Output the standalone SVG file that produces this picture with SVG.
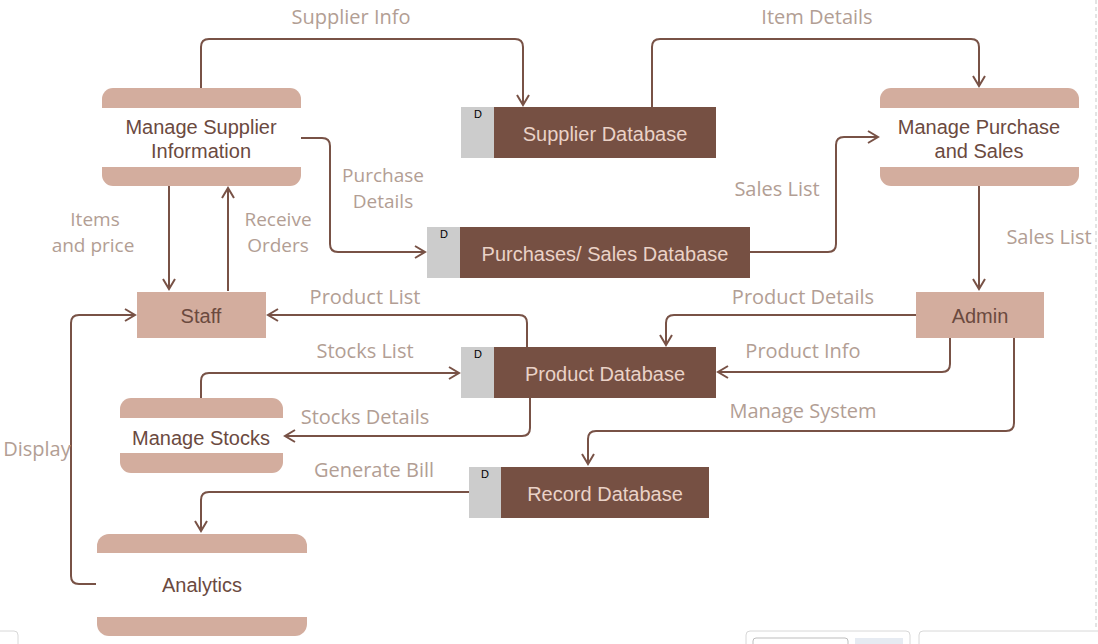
<svg xmlns="http://www.w3.org/2000/svg" width="1098" height="644" viewBox="0 0 1098 644">
<defs>
<style>
.band{fill:#d3ad9e}
.mid{fill:#ffffff}
.ptxt{font-family:"Liberation Sans",Arial,sans-serif;font-size:20px;fill:#6b4a3f;text-anchor:middle}
.dtxt{font-family:"Liberation Sans",Arial,sans-serif;font-size:20px;fill:#ead2c7;text-anchor:middle}
.dlab{font-family:"Liberation Sans",Arial,sans-serif;font-size:11px;fill:#000000}
.grey{fill:#cccccc}
.brown{fill:#765043}
.lbl{font-family:"Open Sans","Noto Sans",sans-serif;font-size:20px;fill:#b29e94;text-anchor:middle}
.lbl2{font-family:"Open Sans","Noto Sans",sans-serif;font-size:19px;fill:#b29e94;text-anchor:middle}
.con{fill:none;stroke:#785246;stroke-width:2}
.art{fill:none;stroke:#d8d8d8;stroke-width:1}
</style>
<marker id="arr" markerUnits="userSpaceOnUse" markerWidth="14" markerHeight="14" refX="11" refY="7" orient="auto">
<path d="M1,1 L11,7 L1,13" fill="none" stroke="#785246" stroke-width="2"/>
</marker>
</defs>
<rect width="1098" height="644" fill="#ffffff"/>

<g id="connectors">
<path class="con" marker-end="url(#arr)" d="M201,88 V47 Q201,39 209,39 H515 Q523,39 523,47 V105"/>
<path class="con" marker-end="url(#arr)" d="M652,107 V47 Q652,39 660,39 H971 Q979,39 979,47 V86"/>
<path class="con" marker-end="url(#arr)" d="M301,138 H322 Q330,138 330,146 V244 Q330,252 338,252 H425"/>
<path class="con" marker-end="url(#arr)" d="M750,252 H828 Q836,252 836,244 V145 Q836,137 844,137 H878"/>
<path class="con" marker-end="url(#arr)" d="M979,186 V289"/>
<path class="con" marker-end="url(#arr)" d="M169,186 V289"/>
<path class="con" marker-end="url(#arr)" d="M228,291 V188"/>
<path class="con" marker-end="url(#arr)" d="M527,347 V323 Q527,315 519,315 H268"/>
<path class="con" marker-end="url(#arr)" d="M916,315 H674 Q666,315 666,323 V345"/>
<path class="con" marker-end="url(#arr)" d="M950,338 V364 Q950,372 942,372 H718"/>
<path class="con" marker-end="url(#arr)" d="M201,398 V381 Q201,373 209,373 H459"/>
<path class="con" marker-end="url(#arr)" d="M530,398 V428 Q530,436 522,436 H285"/>
<path class="con" marker-end="url(#arr)" d="M1014,338 V423 Q1014,431 1006,431 H596 Q588,431 588,439 V464"/>
<path class="con" marker-end="url(#arr)" d="M469,492 H209 Q201,492 201,500 V531"/>
<path class="con" marker-end="url(#arr)" d="M96,584 H79 Q71,584 71,576 V323 Q71,315 79,315 H135"/>
</g>

<g id="labels">
<text class="lbl" x="351" y="24">Supplier Info</text>
<text class="lbl" x="817" y="24">Item Details</text>
<text class="lbl2" x="383" y="182">Purchase</text>
<text class="lbl2" x="383" y="208">Details</text>
<text class="lbl" x="777" y="196">Sales List</text>
<text class="lbl" x="1049" y="244">Sales List</text>
<text class="lbl2" x="95" y="226">Items</text>
<text class="lbl2" x="93" y="252">and price</text>
<text class="lbl2" x="278" y="226">Receive</text>
<text class="lbl2" x="278" y="252">Orders</text>
<text class="lbl" x="365" y="304">Product List</text>
<text class="lbl" x="803" y="304">Product Details</text>
<text class="lbl" x="365" y="358">Stocks List</text>
<text class="lbl" x="803" y="358">Product Info</text>
<text class="lbl" x="365" y="424">Stocks Details</text>
<text class="lbl" x="803" y="418">Manage System</text>
<text class="lbl" x="374" y="477">Generate Bill</text>
<text class="lbl" x="37" y="456">Display</text>
</g>

<g id="manage-supplier">
<rect class="band" x="102" y="88" width="199" height="98" rx="11"/>
<rect class="mid" x="102" y="108" width="199" height="59"/>
<text class="ptxt" x="201" y="134">Manage Supplier</text>
<text class="ptxt" x="201" y="158">Information</text>
</g>

<g id="supplier-db">
<rect class="grey" x="461" y="107" width="33" height="51"/>
<rect class="brown" x="494" y="107" width="222" height="51"/>
<text class="dlab" x="474" y="118">D</text>
<text class="dtxt" x="605" y="141">Supplier Database</text>
</g>

<g id="manage-purchase">
<rect class="band" x="880" y="88" width="199" height="98" rx="11"/>
<rect class="mid" x="880" y="108" width="199" height="59"/>
<text class="ptxt" x="979" y="134">Manage Purchase</text>
<text class="ptxt" x="979" y="158">and Sales</text>
</g>

<g id="purchases-db">
<rect class="grey" x="427" y="227" width="33" height="51"/>
<rect class="brown" x="460" y="227" width="290" height="51"/>
<text class="dlab" x="440" y="238">D</text>
<text class="dtxt" x="605" y="261">Purchases/ Sales Database</text>
</g>

<g id="staff">
<rect class="band" x="137" y="292" width="129" height="46"/>
<text class="ptxt" x="201" y="323">Staff</text>
</g>

<g id="admin">
<rect class="band" x="916" y="292" width="128" height="46"/>
<text class="ptxt" x="980" y="323">Admin</text>
</g>

<g id="product-db">
<rect class="grey" x="461" y="347" width="33" height="51"/>
<rect class="brown" x="494" y="347" width="222" height="51"/>
<text class="dlab" x="474" y="358">D</text>
<text class="dtxt" x="605" y="381">Product Database</text>
</g>

<g id="manage-stocks">
<rect class="band" x="120" y="398" width="163" height="75" rx="11"/>
<rect class="mid" x="120" y="418" width="163" height="35"/>
<text class="ptxt" x="201" y="445">Manage Stocks</text>
</g>

<g id="record-db">
<rect class="grey" x="469" y="467" width="32" height="51"/>
<rect class="brown" x="501" y="467" width="208" height="51"/>
<text class="dlab" x="481" y="478">D</text>
<text class="dtxt" x="605" y="501">Record Database</text>
</g>

<g id="analytics">
<rect class="band" x="97" y="534" width="210" height="102" rx="12"/>
<rect class="mid" x="97" y="553" width="210" height="64"/>
<text class="ptxt" x="202" y="592">Analytics</text>
</g>

<g id="page-artifacts">
<line x1="1096" y1="0" x2="1096" y2="630" stroke="#c8c8c8" stroke-width="1" stroke-dasharray="4,3"/>
<rect class="art" x="746" y="631" width="164" height="20" rx="4"/>
<rect x="753" y="638" width="95" height="12" rx="3" fill="none" stroke="#bdbdbd"/>
<rect x="855" y="638" width="48" height="10" fill="#e6ebf2"/>
<rect class="art" x="919" y="631" width="185" height="20" rx="4"/>
<rect class="art" x="-5" y="631" width="23" height="20" rx="4"/>
</g>
</svg>
